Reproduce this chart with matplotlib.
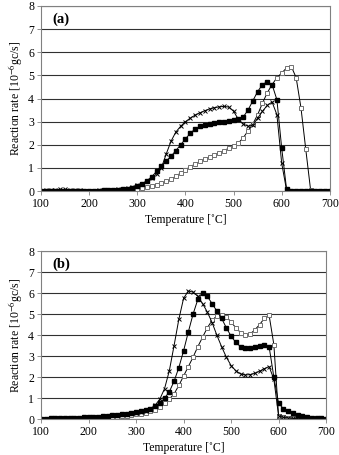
import matplotlib
matplotlib.use('Agg')
import matplotlib.pyplot as plt
import numpy as np

plt.rcParams['font.family'] = ['Liberation Serif', 'DejaVu Serif']
plt.rcParams['mathtext.fontset'] = 'stix'

# temperature grid [C], 10 degree steps from 100 to 700
temp = [100, 110, 120, 130, 140, 150, 160, 170, 180, 190,
        200, 210, 220, 230, 240, 250, 260, 270, 280, 290,
        300, 310, 320, 330, 340, 350, 360, 370, 380, 390,
        400, 410, 420, 430, 440, 450, 460, 470, 480, 490,
        500, 510, 520, 530, 540, 550, 560, 570, 580, 590,
        600, 610, 620, 630, 640, 650, 660, 670, 680, 690, 700]

# panel (a)
a_cross = [0.02, 0.03, 0.05, 0.06, 0.07, 0.07, 0.06, 0.05, 0.03, 0.02,
           0.02, 0.02, 0.03, 0.04, 0.05, 0.06, 0.08, 0.10, 0.13, 0.18,
           0.25, 0.32, 0.42, 0.55, 0.75, 1.00, 1.60, 2.15, 2.55, 2.80,
           3.00, 3.15, 3.28, 3.38, 3.47, 3.55, 3.60, 3.64, 3.66, 3.63,
           3.45, 3.10, 2.90, 2.80, 2.85, 3.15, 3.45, 3.70, 3.85, 3.30,
           1.20, 0.05, 0.0, 0.0, 0.0, 0.0, 0.0, 0.0, 0.0, 0.0, 0.0]
a_fill = [0.01, 0.01, 0.01, 0.01, 0.01, 0.01, 0.01, 0.01, 0.01, 0.01,
          0.01, 0.01, 0.02, 0.03, 0.04, 0.05, 0.06, 0.08, 0.11, 0.15,
          0.22, 0.32, 0.45, 0.62, 0.85, 1.10, 1.30, 1.50, 1.75, 2.00,
          2.25, 2.50, 2.68, 2.80, 2.87, 2.92, 2.95, 2.97, 3.00, 3.02,
          3.05, 3.10, 3.20, 3.50, 3.90, 4.30, 4.60, 4.73, 4.60, 3.95,
          1.85, 0.10, 0.0, 0.0, 0.0, 0.0, 0.0, 0.0, 0.0, 0.0, 0.0]
a_open = [0.0, 0.0, 0.0, 0.0, 0.0, 0.0, 0.0, 0.0, 0.0, 0.0,
          0.0, 0.0, 0.0, 0.0, 0.0, 0.01, 0.01, 0.02, 0.03, 0.05,
          0.09, 0.14, 0.19, 0.23, 0.28, 0.34, 0.42, 0.52, 0.64, 0.78,
          0.92, 1.05, 1.17, 1.28, 1.38, 1.48, 1.57, 1.66, 1.75, 1.85,
          1.95, 2.08, 2.30, 2.60, 2.90, 3.30, 3.80, 4.25, 4.60, 4.90,
          5.10, 5.32, 5.38, 4.90, 3.60, 1.80, 0.05, 0.0, 0.0, 0.0, 0.0]

# panel (b)
b_cross = [0.02, 0.02, 0.03, 0.03, 0.04, 0.04, 0.05, 0.06, 0.07, 0.08,
           0.09, 0.10, 0.12, 0.14, 0.16, 0.18, 0.20, 0.22, 0.25, 0.28,
           0.31, 0.35, 0.40, 0.50, 0.65, 0.95, 1.45, 2.30, 3.50, 4.75,
           5.75, 6.10, 6.05, 5.85, 5.50, 5.10, 4.60, 4.00, 3.45, 2.95,
           2.55, 2.30, 2.15, 2.10, 2.12, 2.18, 2.28, 2.40, 2.50, 1.90,
           0.15, 0.08, 0.05, 0.03, 0.02, 0.01, 0.01, 0.0, 0.0, 0.0, 0.0]
b_fill = [0.02, 0.02, 0.03, 0.04, 0.04, 0.05, 0.06, 0.06, 0.07, 0.08,
          0.09, 0.10, 0.12, 0.14, 0.16, 0.18, 0.20, 0.22, 0.25, 0.28,
          0.32, 0.36, 0.42, 0.50, 0.60, 0.75, 1.00, 1.30, 1.80, 2.45,
          3.25, 4.15, 5.00, 5.70, 6.00, 5.85, 5.50, 5.15, 4.80, 4.35,
          3.95, 3.65, 3.45, 3.38, 3.38, 3.42, 3.48, 3.55, 3.45, 2.00,
          0.75, 0.50, 0.38, 0.28, 0.20, 0.15, 0.10, 0.07, 0.05, 0.03, 0.02]
b_open = [0.0, 0.0, 0.01, 0.01, 0.01, 0.01, 0.02, 0.02, 0.02, 0.03,
          0.04, 0.05, 0.06, 0.07, 0.08, 0.10, 0.12, 0.14, 0.16, 0.19,
          0.22, 0.26, 0.30, 0.36, 0.45, 0.58, 0.75, 0.95, 1.20, 1.60,
          2.05, 2.50, 2.95, 3.45, 3.90, 4.35, 4.70, 4.92, 4.98, 4.88,
          4.62, 4.35, 4.12, 4.00, 4.05, 4.25, 4.50, 4.80, 4.95, 3.55,
          0.15, 0.10, 0.07, 0.05, 0.03, 0.02, 0.01, 0.0, 0.0, 0.0, 0.0]

panels = [('(a)', a_cross, a_fill, a_open, [0.121, 0.580, 0.852, 0.407]),
          ('(b)', b_cross, b_fill, b_open, [0.121, 0.079, 0.841, 0.369])]

fig = plt.figure(figsize=(3.39, 4.55), dpi=100)

for label, cross, fill, opn, pos in panels:
    ax = fig.add_axes(pos)
    ax.plot(temp, opn, color='black', lw=0.7, marker='s', ms=3.2,
            mfc='white', mec='#707070', mew=0.7)
    ax.plot(temp, fill, color='black', lw=0.7, marker='s', ms=3.4,
            mfc='black', mec='black')
    ax.plot(temp, cross, color='black', lw=0.7, marker='x', ms=3.5, mew=0.7)

    ax.set_xlim(100, 700)
    ax.set_ylim(0, 8)
    ax.set_xticks(range(100, 701, 100))
    ax.set_yticks(range(0, 9))
    ax.yaxis.grid(True, color='#303030', lw=0.8)
    ax.set_axisbelow(True)
    for s in ax.spines.values():
        s.set_color('#808080')
        s.set_linewidth(0.8)
    ax.tick_params(labelsize=8.5, length=3, width=0.6, color='#808080', pad=2)
    ax.set_xlabel('Temperature [˚C]', fontsize=8.5, labelpad=3)
    ax.set_ylabel('Reaction rate [10$^{-6}$gc/s]', fontsize=8.5, labelpad=3)
    ax.text(0.04, 0.965, label, transform=ax.transAxes, fontsize=10.5,
            fontweight='bold', va='top', ha='left')

fig.savefig('out.png', dpi=100)
